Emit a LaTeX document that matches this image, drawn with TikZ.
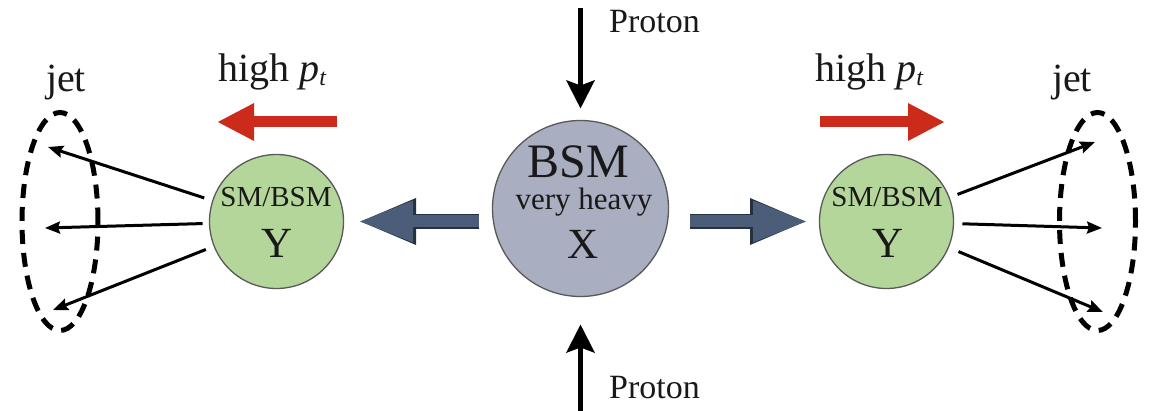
\documentclass[tikz,border=0pt]{standalone}
\usepackage{fontspec}
\setmainfont{Liberation Serif}
\usetikzlibrary{arrows.meta, shapes.geometric}

\definecolor{heavyfill}{HTML}{A9AEC0}
\definecolor{lightfill}{HTML}{B4D69B}
\definecolor{decayblue}{HTML}{4B5D78}
\definecolor{decayedge}{HTML}{263140}
\definecolor{ptred}{HTML}{CC2A1A}

\begin{document}
\begin{tikzpicture}[x=1pt, y=-1pt,
    ball/.style={circle, draw=black!65, line width=1.3pt, inner sep=0pt, outer sep=0pt},
    ring/.style={ellipse, draw=black, line width=5pt, dash pattern=on 14pt off 9pt,
                 inner sep=0pt, outer sep=0pt, minimum width=76pt, minimum height=218pt},
    fat/.style={line width=12pt, draw=decayblue, -{Triangle[length=55pt, width=38pt]},
                preaction={draw=decayedge, line width=14.5pt, -{Triangle[length=58pt, width=42pt]}}},
    beam/.style={line width=5pt, -{Stealth[length=28pt, width=28pt, inset=5pt]}},
    push/.style={line width=11pt, draw=ptred, -{Triangle[length=37pt, width=35pt]}},
    track/.style={line width=3pt, -{Stealth[length=15pt, width=12pt, inset=2pt]}},
    lbl/.style={inner sep=0pt, anchor=base, text=black!90}
]
\useasboundingbox (0,0) rectangle (1153,411);

% heavy particle and its decay products
\node[ball, fill=heavyfill, minimum size=176pt] (X) at (580.5,208.5) {};
\node[ball, fill=lightfill, minimum size=134pt] (Yl) at (276.5,221.5) {};
\node[ball, fill=lightfill, minimum size=134pt] (Yr) at (886.5,221.5) {};

\node[lbl, font=\fontsize{48}{48}\selectfont] (bsm) at (578,178) {BSM};
\node[lbl, font=\fontsize{31}{31}\selectfont] (heavy) at (584,210) {very heavy};
\node[lbl, font=\fontsize{43}{43}\selectfont] (xname) at (583,259) {X};

\node[lbl, font=\fontsize{29}{29}\selectfont] (smbsml) at (276,207) {SM/BSM};
\node[lbl, font=\fontsize{43}{43}\selectfont] (yl) at (277,258) {Y};
\node[lbl, font=\fontsize{29}{29}\selectfont] (smbsmr) at (887,207) {SM/BSM};
\node[lbl, font=\fontsize{43}{43}\selectfont] (yr) at (888,258) {Y};

% incoming protons
\coordinate (ptop) at (580.5,8);
\coordinate (pbot) at (580.5,411);
\node[lbl, anchor=base west, font=\fontsize{34}{34}\selectfont] (protontop) at (609,33) {Proton};
\node[lbl, anchor=base west, font=\fontsize{34}{34}\selectfont] (protonbot) at (609,398) {Proton};
\draw[beam, shorten >=12pt] (ptop) -- (X);
\draw[beam, shorten >=28pt] (pbot) -- (X);

% decay arrows
\draw[fat, shorten <=13.5pt, shorten >=14.5pt] (X.west |- Yl.east) -- (Yl.east);
\draw[fat, shorten <=21.5pt, shorten >=11.5pt] (X.east |- Yr.west) -- (Yr.west);

% high pt
\coordinate (hpl1) at (337,122);
\coordinate (hpl2) at (217,122);
\coordinate (hpr1) at (820,122);
\coordinate (hpr2) at (945,122);
\draw[push] (hpl1) -- (hpl2);
\draw[push] (hpr1) -- (hpr2);
\node[lbl, anchor=base west, font=\fontsize{40}{40}\selectfont] (hptl) at (218,82)
  {high \textit{p}\raisebox{-0.2ex}{\fontsize{24}{24}\selectfont\textit{t}}};
\node[lbl, anchor=base west, font=\fontsize{40}{40}\selectfont] (hptr) at (815,82)
  {high \textit{p}\raisebox{-0.2ex}{\fontsize{24}{24}\selectfont\textit{t}}};

% jets
\node[ring] (jetl) at (60,221.5) {};
\node[ring] (jetr) at (1097.5,221.5) {};
\node[lbl, font=\fontsize{40}{40}\selectfont] (jetlbll) at (66,92) {jet};
\node[lbl, font=\fontsize{40}{40}\selectfont] (jetlblr) at (1072,92) {jet};

\coordinate (jl1) at (48,147);
\coordinate (jl2) at (45,228);
\coordinate (jl3) at (53,310);
\coordinate (jr1) at (1095,142);
\coordinate (jr2) at (1102,228);
\coordinate (jr3) at (1103,312);
\draw[track, shorten <=9pt] (Yl) -- (jl1);
\draw[track, shorten <=7pt] (Yl) -- (jl2);
\draw[track, shorten <=9pt] (Yl) -- (jl3);
\draw[track, shorten <=9pt] (Yr) -- (jr1);
\draw[track, shorten <=9pt] (Yr) -- (jr2);
\draw[track, shorten <=11pt] (Yr) -- (jr3);

\end{tikzpicture}
\end{document}
